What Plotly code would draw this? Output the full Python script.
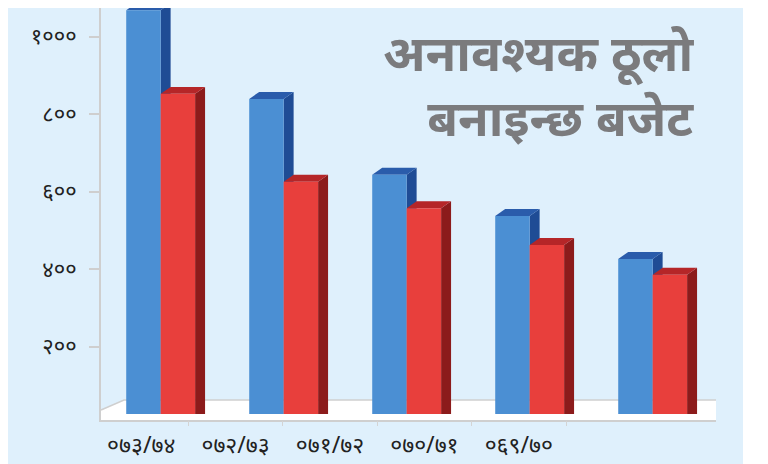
import plotly.graph_objects as go

categories = ["०७३/७४", "०७२/७३", "०७१/७२", "०७०/७१", "०६९/७०"]
blue_values = [1068, 839, 643, 537, 426]
red_values = [852, 625, 557, 462, 385]
ytick_vals = [200, 400, 600, 800, 1000]
ytick_text = ["२००", "४००", "६००", "८००", "१०००"]
title_lines = ["अनावश्यक ठूलो", "बनाइन्छ बजेट"]

# the page body adds an 8px margin, so the figure is laid out in page pixels minus 8
OFF = 8
W, H = 768 - OFF, 464 - OFF
ML, MR, MT, MB = 101 - OFF, 52, 0, 44
PW = W - ML - MR
PH = H - MT - MB

BLUE = "#4b8fd3"
BLUE_SIDE = "#1f4c95"
BLUE_TOP = "#2a5cab"
RED = "#e83f3c"
RED_SIDE = "#8c1b1b"
RED_TOP = "#b52628"
BG = "#dff0fc"

bar_w = 0.28
blue_off = -0.295
red_off = -0.015
dx = 0.081   # depth in x units
dy = 18      # depth in value units

idx = list(range(len(categories)))

fig = go.Figure()
fig.add_trace(go.Bar(x=idx, y=blue_values, width=bar_w, offset=blue_off,
                     marker=dict(color=BLUE, line=dict(width=0)), hoverinfo="skip"))
fig.add_trace(go.Bar(x=idx, y=red_values, width=bar_w, offset=red_off,
                     marker=dict(color=RED, line=dict(width=0)), hoverinfo="skip"))
# invisible trace carrying the category labels axis
fig.add_trace(go.Scatter(x=categories, y=blue_values, xaxis="x2", yaxis="y",
                         mode="markers", marker=dict(opacity=0), hoverinfo="skip"))

def px2paper_x(px):
    return (px - OFF - ML) / PW

def py2paper_y(py):
    return (MT + PH - (py - OFF)) / PH

shapes = []
shapes.append(dict(type="rect", xref="paper", yref="paper", layer="below",
                   x0=px2paper_x(8), x1=px2paper_x(743), y0=py2paper_y(470), y1=py2paper_y(0),
                   fillcolor=BG, line=dict(width=0)))
fx0, fx1, fx2 = px2paper_x(101), px2paper_x(124), px2paper_x(716)
fy_top, fy_mid, fy_bot = py2paper_y(400), py2paper_y(410), py2paper_y(420)
shapes.append(dict(type="path", xref="paper", yref="paper", layer="below",
                   path=f"M {fx0},{fy_mid} L {fx1},{fy_top} L {fx2},{fy_top} L {fx2},{fy_bot} L {fx0},{fy_bot} Z",
                   fillcolor="white", line=dict(width=0)))
shapes.append(dict(type="path", xref="paper", yref="paper", layer="below",
                   path=f"M {fx0},{fy_mid} L {fx1},{fy_top} L {fx2},{fy_top}",
                   line=dict(color="#cfcfcf", width=1.5)))

def faces(vals, off, side_col, top_col):
    out = []
    for i, v in zip(idx, vals):
        xl = i + off
        xr = xl + bar_w
        out.append(dict(type="path", xref="x", yref="y", layer="below",
                        path=f"M {xr},0 L {xr},{v} L {xr+dx},{v+dy} L {xr+dx},{dy} Z",
                        fillcolor=side_col, line=dict(width=0)))
        out.append(dict(type="path", xref="x", yref="y", layer="below",
                        path=f"M {xl},{v} L {xr},{v} L {xr+dx},{v+dy} L {xl+dx},{v+dy} Z",
                        fillcolor=top_col, line=dict(width=0)))
    return out

shapes += faces(blue_values, blue_off, BLUE_SIDE, BLUE_TOP)
shapes += faces(red_values, red_off, RED_SIDE, RED_TOP)
shapes.append(dict(type="rect", xref="paper", yref="paper", layer="above",
                   x0=fx0, x1=fx2, y0=fy_bot, y1=py2paper_y(414),
                   fillcolor="white", line=dict(width=0)))

title_font = dict(size=50, color="#7b7b7d", family="Noto Sans, sans-serif")
annotations = [
    dict(text="<b>" + title_lines[0] + "</b><br><b>" + title_lines[1] + "</b>",
         xref="paper", yref="paper", align="right",
         x=px2paper_x(696), y=py2paper_y(84), xanchor="right", yanchor="middle",
         showarrow=False, font=title_font),
]

fig.update_layout(
    width=W, height=H,
    margin=dict(l=ML, r=MR, t=MT, b=MB, autoexpand=False),
    paper_bgcolor="white",
    plot_bgcolor="rgba(0,0,0,0)",
    showlegend=False,
    barmode="overlay",
    shapes=shapes,
    annotations=annotations,
    font=dict(family="Noto Sans, sans-serif", color="#222222"),
    xaxis=dict(range=[-0.5, 4.5], showticklabels=False, ticks="", showgrid=False,
               zeroline=False, showline=True, linecolor="#cfcfcf", linewidth=2,
               fixedrange=True, automargin=False),
    xaxis2=dict(type="category", categoryarray=categories, categoryorder="array",
                domain=[0, px2paper_x(566)], anchor="y",
                range=[-0.5 + (101 - 94) / 94.25, 4.5],
                showline=False, showgrid=False, zeroline=False,
                ticks="outside", tickson="boundaries", ticklen=5, tickwidth=1,
                tickcolor="#d4d4d4", tickfont=dict(size=23, color="#222222"),
                ticklabelstandoff=9, automargin=False),
    yaxis=dict(range=[(424 - 420) / 0.3875, (424 - OFF) / 0.3875],
               tickvals=ytick_vals, ticktext=ytick_text,
               showgrid=False, zeroline=False, showline=True, linecolor="#cfcfcf", linewidth=2,
               ticks="outside", ticklen=10, tickwidth=2, tickcolor="#cfcfcf",
               tickfont=dict(size=22, color="#222222"), ticklabelstandoff=8, automargin=False),
)

fig.write_html("out.html")
